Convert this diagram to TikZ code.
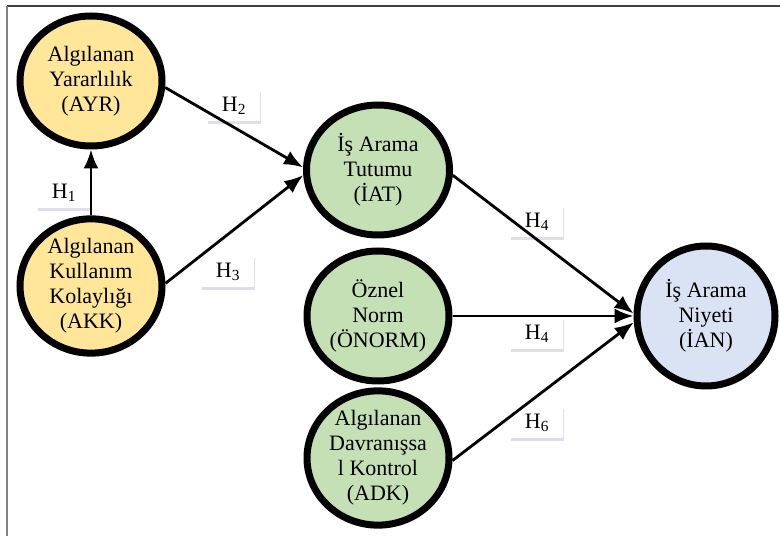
\documentclass[tikz,border=0pt]{standalone}
\usepackage{fontspec}
\setmainfont{Liberation Serif}
\usetikzlibrary{arrows.meta,positioning,shapes.geometric,shadows}
\definecolor{gold}{HTML}{FFE699}
\definecolor{sage}{HTML}{C5E0B4}
\definecolor{mist}{HTML}{DAE3F3}
\tikzset{%
	construct/.style = {draw, ellipse, line width=7pt, inner sep=0pt, align=center,
		minimum width=142pt, minimum height=130pt, font=\fontsize{22}{25}\selectfont}, % Variable
	hyp/.style       = {fill=white, rectangle, minimum height=31pt, minimum width=52pt, inner sep=0pt,
		font=\fontsize{22}{24}\selectfont,
		drop shadow={opacity=0.2, fill=blue!30!gray, shadow xshift=0.5pt, shadow yshift=-1.5pt, shadow scale=1.03}}, % Hypothesis
	link/.style      = {->, line width=2.8pt}, % Effect
}

\begin{document}
\begin{tikzpicture}[x=1pt, y=1pt, >={Latex[length=19pt,width=15pt]}]
	\useasboundingbox (0,0) rectangle (780,536);
	\draw[line width=2pt, black!75] (7,530) -- (780,530);
	\draw[line width=2pt, black!50] (7,530) -- (7,0);
	% hypotheses
	\node[hyp] (h1) at (64,343) {H\textsubscript{1}\hspace{6pt}};
	\node[hyp] (h2) at (234,430) {H\textsubscript{2}\hspace{6pt}};
	\node[hyp] (h3) at (228,264) {H\textsubscript{3}\hspace{6pt}};
	\node[hyp] (h4a) at (537,314) {H\textsubscript{4}\hspace{6pt}};
	\node[hyp] (h4b) at (537,202) {H\textsubscript{4}\hspace{6pt}};
	\node[hyp] (h6) at (537,113) {H\textsubscript{6}\hspace{6pt}};
	% variables
	\node[construct, fill=gold] (ayr) at (91,455) {Algılanan\\Yararlılık\\(AYR)};
	\node[construct, fill=gold, below of=ayr, node distance=205pt] (akk) {Algılanan\\Kullanım\\Kolaylığı\\(AKK)};
	\node[construct, fill=sage, minimum width=143pt] (iat) at (378,366) {İş Arama\\Tutumu\\(İAT)};
	\node[construct, fill=sage, below of=iat, node distance=146pt] (onorm) {Öznel\\Norm\\(ÖNORM)};
	\node[construct, fill=sage, below of=onorm, node distance=142pt] (adk) {Algılanan\\Davranışsa\\l Kontrol\\(ADK)};
	\node[construct, fill=mist, right of=onorm, node distance=328pt, minimum width=138pt, minimum height=140pt] (ian) {İş Arama\\Niyeti\\(İAN)};
	% effects
	\draw[link] (akk) -- (ayr);
	\draw[link] (ayr.-5) -- (iat.178.5);
	\draw[link] (akk.2) -- (iat.184);
	\draw[link] (iat.-4) -- (ian.178);
	\draw[link] (onorm) -- (ian);
	\draw[link] (adk.-2) -- (ian.185);
\end{tikzpicture}
\end{document}
